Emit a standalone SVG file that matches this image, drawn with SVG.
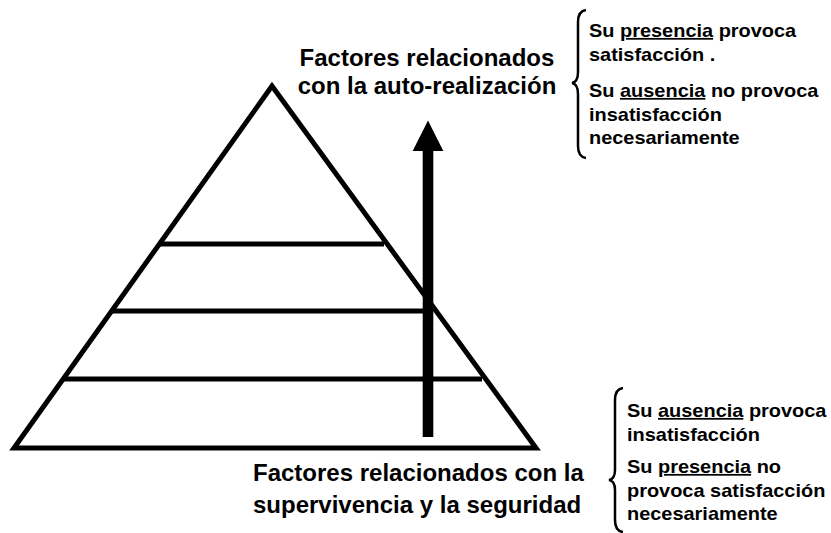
<svg xmlns="http://www.w3.org/2000/svg" width="831" height="533" viewBox="0 0 831 533">
<style>
.ln{stroke:#000;stroke-width:5;fill:none}
.big{font-family:"Liberation Sans",Arial,sans-serif;font-weight:bold;font-size:24px;fill:#000}
.sm{font-family:"Liberation Sans",Arial,sans-serif;font-weight:bold;font-size:17.5px;fill:#000}
.br{stroke:#000;stroke-width:2.5;fill:none}
</style>
<rect width="831" height="533" fill="#fff"/>
<g id="pyramid">
<polygon class="ln" points="272,86 14,448 536,448" stroke-linejoin="miter"/>
<line class="ln" x1="160" y1="244" x2="384" y2="244"/>
<line class="ln" x1="112" y1="311" x2="433" y2="311"/>
<line class="ln" x1="63" y1="379" x2="482" y2="379"/>
</g>
<g id="connectors">
<rect x="422.7" y="148" width="10.6" height="289" fill="#000"/>
<polygon points="428,120.5 412.7,151 443.3,151" fill="#000"/>
</g>
<g id="top-label">
<text class="big" x="427" y="66" text-anchor="middle">Factores relacionados</text>
<text class="big" x="427" y="94" text-anchor="middle">con la auto-realización</text>
</g>
<g id="bottom-label">
<text class="big" x="253" y="481">Factores relacionados con la</text>
<text class="big" x="253" y="513">supervivencia y la seguridad</text>
</g>
<g id="top-note">
<path class="br" d="M586,10 Q578,11 578,22 L578,72 Q578,82 572,83 Q578,84 578,94 L578,146 Q578,157 586,158"/>
<g transform="translate(589,0) scale(1.14,1)">
<text class="sm" x="0" y="37">Su <tspan text-decoration="underline">presencia</tspan> provoca</text>
<text class="sm" x="0" y="61">satisfacción .</text>
<text class="sm" x="0" y="97">Su <tspan text-decoration="underline">ausencia</tspan> no provoca</text>
<text class="sm" x="0" y="121">insatisfacción</text>
<text class="sm" x="0" y="144">necesariamente</text>
</g>
</g>
<g id="bottom-note">
<path class="br" d="M623,388 Q615,389 615,400 L615,470 Q615,479 609,480 Q615,481 615,490 L615,520 Q615,531 623,532"/>
<g transform="translate(627,0) scale(1.14,1)">
<text class="sm" x="0" y="417">Su <tspan text-decoration="underline">ausencia</tspan> provoca</text>
<text class="sm" x="0" y="441">insatisfacción</text>
<text class="sm" x="0" y="473">Su <tspan text-decoration="underline">presencia</tspan> no</text>
<text class="sm" x="0" y="497">provoca satisfacción</text>
<text class="sm" x="0" y="520">necesariamente</text>
</g>
</g>
</svg>
